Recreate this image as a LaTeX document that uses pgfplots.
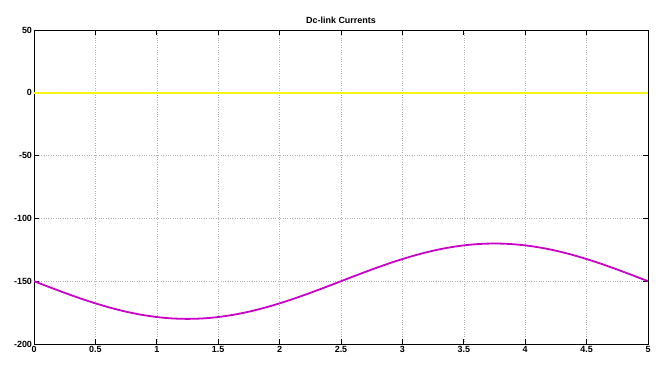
\documentclass[border=0pt]{standalone}
\usepackage{pgfplots}
\pgfplotsset{compat=1.18}
\usepackage{fontspec}
\setmainfont{Liberation Sans}
\definecolor{myyellow}{RGB}{245,245,20}
\definecolor{mymag}{RGB}{200,0,200}
\begin{document}
\begin{tikzpicture}[x=1bp,y=1bp]
\path[use as bounding box] (-34bp,-23bp) rectangle (627bp,344bp);
\begin{axis}[
  at={(0,0)}, anchor=south west,
  scale only axis, width=614bp, height=314bp,
  xmin=0, xmax=5, ymin=-200, ymax=50,
  xtick={0,0.5,...,5}, ytick={-200,-150,...,50},
  xticklabels={0,0.5,1,1.5,2,2.5,3,3.5,4,4.5,5},
  tick align=inside, major tick length=5bp,
  tick style={black, line width=1pt},
  grid=major, grid style={dotted, gray!60, line width=0.5pt},
  axis line style={black, line width=1pt},
  ticklabel style={font=\fontsize{9}{10}\selectfont\bfseries},
  /pgf/number format/assume math mode=true,
  yticklabel style={xshift=1.5bp},
  xticklabel style={yshift=1bp},
  title={\fontsize{9}{10}\selectfont\bfseries Dc-link Currents},
  title style={yshift=-3bp},
]
\addplot[myyellow, line width=1.8pt] coordinates {(0,0) (5,0)};
\addplot[mymag, line width=1.8pt, smooth] coordinates {
(0,-150) (0.125,-154.69) (0.25,-159.27) (0.375,-163.62) (0.5,-167.63)
(0.625,-171.21) (0.75,-174.27) (0.875,-176.73) (1,-178.53) (1.125,-179.63)
(1.25,-180) (1.375,-179.63) (1.5,-178.53) (1.625,-176.73) (1.75,-174.27)
(1.875,-171.21) (2,-167.63) (2.125,-163.62) (2.25,-159.27) (2.375,-154.69)
(2.5,-150) (2.625,-145.31) (2.75,-140.73) (2.875,-136.38) (3,-132.37)
(3.125,-128.79) (3.25,-125.73) (3.375,-123.27) (3.5,-121.47) (3.625,-120.37)
(3.75,-120) (3.875,-120.37) (4,-121.47) (4.125,-123.27) (4.25,-125.73)
(4.375,-128.79) (4.5,-132.37) (4.625,-136.38) (4.75,-140.73) (4.875,-145.31)
(5,-150)};
\end{axis}
\end{tikzpicture}
\end{document}
